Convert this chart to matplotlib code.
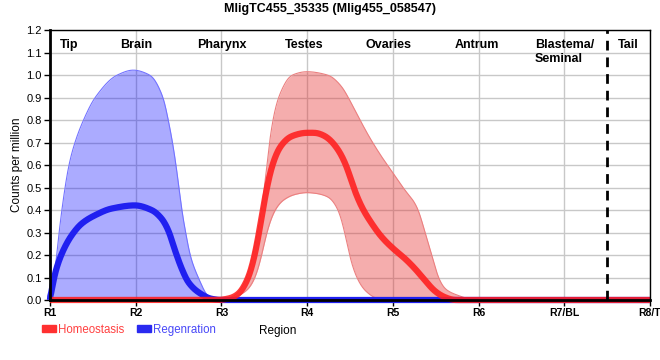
import numpy as np
import matplotlib
matplotlib.use("Agg")
import matplotlib.pyplot as plt
from matplotlib.patches import Patch

plt.rcParams['font.family'] = ['Liberation Sans', 'DejaVu Sans']

# ---------------- data (region units: R1=1 ... R8/T=8) ----------------
tick_labels = ["R1", "R2", "R3", "R4", "R5", "R6", "R7/BL", "R8/T"]
region_names = ["Tip", "Brain", "Pharynx", "Testes", "Ovaries", "Antrum", "Blastema/\nSeminal", "Tail"]
region_pos = [1.22, 2.0, 3.0, 3.97, 4.95, 5.98, 7.0, 7.75]
title = "MligTC455_35335 (Mlig455_058547)"

regen_x = [1.0, 1.058, 1.137, 1.253, 1.37, 1.525, 1.72, 1.99, 2.187, 2.303, 2.38,
           2.459, 2.537, 2.614, 2.73, 2.887, 3.0, 8.0]
regen_mean = [0.0, 0.117, 0.206, 0.288, 0.34, 0.377, 0.407, 0.421, 0.40, 0.362, 0.31,
              0.22, 0.139, 0.079, 0.035, 0.005, 0.0, 0.0]
regen_up_x = [1.0, 1.05, 1.105, 1.175, 1.22, 1.29, 1.39, 1.525, 1.78, 1.97, 2.167, 2.32,
              2.38, 2.43, 2.47, 2.505, 2.537, 2.583, 2.634, 2.73, 2.85, 2.95, 8.0]
regen_upper = [0.0, 0.1, 0.3, 0.5, 0.6, 0.7, 0.8, 0.9, 1.0, 1.023, 1.0, 0.9,
               0.8, 0.7, 0.6, 0.5, 0.4, 0.3, 0.2, 0.1, 0.015, 0.0, 0.0]

homeo_x = [1.0, 2.95, 3.1, 3.197, 3.314, 3.392, 3.45, 3.509, 3.587, 3.684, 3.82, 3.995,
           4.092, 4.189, 4.247, 4.364, 4.462, 4.539, 4.637, 4.754, 4.87, 5.006, 5.142,
           5.259, 5.376, 5.492, 5.609, 5.726, 8.0]
homeo_mean = [0.0, 0.0, 0.008, 0.027, 0.10, 0.206, 0.325, 0.458, 0.592, 0.681, 0.729, 0.744,
              0.744, 0.733, 0.719, 0.667, 0.592, 0.503, 0.414, 0.34, 0.28, 0.228, 0.184,
              0.139, 0.087, 0.039, 0.012, 0.0, 0.0]
homeo_up_x = [1.0, 2.95, 3.1, 3.2, 3.314, 3.392, 3.47, 3.529, 3.559, 3.599, 3.664, 3.82, 3.995,
              4.247, 4.404, 4.481, 4.598, 4.714, 4.87, 5.006, 5.142, 5.251, 5.297, 5.376,
              5.454, 5.531, 5.609, 5.764, 5.96, 8.0]
homeo_upper = [0.0, 0.0, 0.01, 0.035, 0.12, 0.25, 0.4, 0.6, 0.7, 0.8, 0.9, 1.0, 1.016,
               1.0, 0.949, 0.9, 0.815, 0.733, 0.637, 0.563, 0.488, 0.435, 0.4, 0.3,
               0.2, 0.1, 0.05, 0.02, 0.0, 0.0]
homeo_lo_x = [1.0, 2.95, 3.1, 3.2, 3.314, 3.392, 3.47, 3.529, 3.625, 3.72, 3.86, 3.995, 4.092,
              4.247, 4.364, 4.442, 4.5, 4.579, 4.676, 4.831, 4.97, 8.0]
homeo_lower = [0.0, 0.0, 0.006, 0.02, 0.05, 0.1, 0.2, 0.3, 0.4, 0.444, 0.47, 0.478, 0.475,
               0.458, 0.399, 0.295, 0.19, 0.10, 0.042, 0.005, 0.0, 0.0]


def pchip(x, y, xq):
    x = np.asarray(x, float); y = np.asarray(y, float)
    h = np.diff(x); d = np.diff(y) / h
    m = np.zeros_like(y)
    for k in range(1, len(x) - 1):
        if d[k - 1] * d[k] > 0:
            w1 = 2 * h[k] + h[k - 1]; w2 = h[k] + 2 * h[k - 1]
            m[k] = (w1 + w2) / (w1 / d[k - 1] + w2 / d[k])
    m[0] = d[0]; m[-1] = d[-1]
    idx = np.clip(np.searchsorted(x, xq) - 1, 0, len(x) - 2)
    t = (xq - x[idx]) / h[idx]
    h00 = 2 * t**3 - 3 * t**2 + 1; h10 = t**3 - 2 * t**2 + t
    h01 = -2 * t**3 + 3 * t**2; h11 = t**3 - t**2
    return h00 * y[idx] + h10 * h[idx] * m[idx] + h01 * y[idx + 1] + h11 * h[idx] * m[idx + 1]


def smooth_curve(x, y, xq, sigma=0.025):
    v = pchip(x, y, xq)
    step = xq[1] - xq[0]
    n = int(3 * sigma / step)
    k = np.exp(-0.5 * (np.arange(-n, n + 1) * step / sigma) ** 2)
    k /= k.sum()
    vp = np.concatenate([np.full(n, v[0]), v, np.full(n, v[-1])])
    out = np.convolve(vp, k, mode='valid')
    out[0] = v[0]
    return np.clip(out, 0, None)


xs = np.linspace(1, 8, 2101)
rm = smooth_curve(regen_x, regen_mean, xs, 0.015)
ru = smooth_curve(regen_up_x, regen_upper, xs, 0.02)
hm = smooth_curve(homeo_x, homeo_mean, xs)
hu = smooth_curve(homeo_up_x, homeo_upper, xs)
hl = smooth_curve(homeo_lo_x, homeo_lower, xs)

fig = plt.figure(figsize=(6.6, 3.6), dpi=100)
ax = fig.add_axes([50 / 660, 60 / 360, 600 / 660, 269.7 / 360])

ax.set_xlim(1, 8)
ax.set_ylim(0, 1.2)
ax.set_xticks(range(1, 9))
ax.set_xticklabels(tick_labels, fontsize=7.5, fontweight='bold')
ax.set_yticks(np.round(np.arange(0, 1.21, 0.1), 1))
ax.set_yticklabels([f"{v:.1f}" for v in np.arange(0, 1.21, 0.1)], fontsize=8)
ax.grid(True, color='#c8c8c8', linewidth=1)
ax.set_axisbelow(True)
ax.tick_params(axis='both', length=4, width=1, color='black', pad=2)

ax.fill_between(xs, 0, ru, color=(0, 0, 1), alpha=0.33, linewidth=0)
ax.plot(xs, ru, color=(0.45, 0.45, 1), linewidth=0.8)
ax.fill_between(xs, hl, hu, color=(0.9, 0.2, 0.2), alpha=0.4, linewidth=0)
ax.plot(xs, hu, color=(0.92, 0.5, 0.5), linewidth=0.8)
ax.plot(xs, hl, color=(0.92, 0.5, 0.5), linewidth=0.8)

ax.plot(xs, rm, color='#2020f0', linewidth=4.5, clip_on=False, zorder=4, solid_capstyle='butt')
ax.plot(xs, hm, color='#ff1e1e', linewidth=4.5, alpha=0.88, clip_on=False, zorder=5,
        solid_capstyle='butt')

ax.axvline(7.5, color='black', linewidth=2, linestyle=(0, (3.5, 2.5)), zorder=6)

for name, pos in zip(region_names, region_pos):
    ax.text(pos, 1.2 - 9 / 224.3, name, ha='center', va='top', fontsize=9,
            fontweight='bold', multialignment='left', linespacing=1.15)

for side in ['left', 'bottom']:
    ax.spines[side].set_linewidth(2)
for side in ['top', 'right']:
    ax.spines[side].set_linewidth(1)
for s in ax.spines.values():
    s.set_zorder(7)

fig.text(330 / 660, 1 - 9 / 360, title, ha='center', va='center', fontsize=9, fontweight='bold')
fig.text(17 / 660, 1 - 165 / 360, "Counts per million", rotation=90, ha='center', va='center',
         fontsize=8.5)
fig.text(278 / 660, 1 - 331 / 360, "Region", ha='center', va='center', fontsize=8.5)

handles = [Patch(color='#ff3030', label='Homeostasis'), Patch(color='#2a2af0', label='Regenration')]
leg = fig.legend(handles=handles, loc='center left', bbox_to_anchor=(42 / 660, 1 - 330 / 360),
                 ncol=2, frameon=False, fontsize=8.3, handlelength=1.2, handleheight=0.55,
                 handletextpad=0.2, columnspacing=1.1, borderpad=0, borderaxespad=0,
                 labelcolor=['#ff4040', '#4848f8'])

fig.savefig("out.png", dpi=100)
